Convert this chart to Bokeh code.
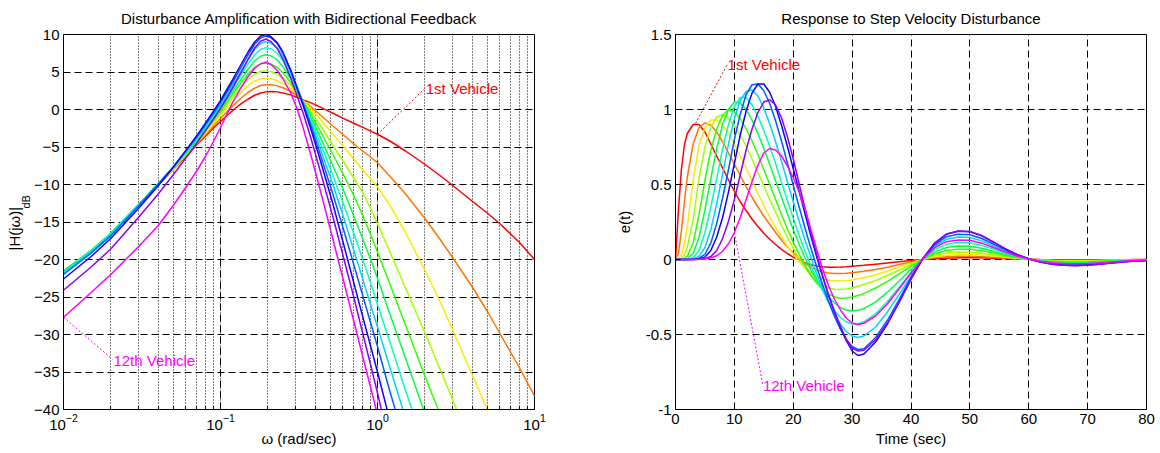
from bokeh.plotting import figure
from bokeh.models import FixedTicker, Label, Range1d, Title
from bokeh.layouts import row
from bokeh.embed import file_html
from bokeh.resources import INLINE

FONT = "Liberation Sans"

# ---------------- colours (vehicle 1 .. 12) ----------------
COLORS = ["#FF0000", "#FF7400", "#FFE800", "#A2FF00", "#2EFF00", "#00FF46",
          "#00FFB9", "#00D1FF", "#005DFF", "#1700FF", "#8B00FF", "#FF00FF"]

# ---------------- left: |H(jw)| in dB ----------------
freq = [0.01, 0.015, 0.02, 0.03, 0.04, 0.05, 0.06, 0.07, 0.08, 0.09, 0.1, 0.11,
        0.12, 0.135, 0.15, 0.165, 0.18, 0.195, 0.21, 0.23, 0.25, 0.28, 0.31, 0.34,
        0.38, 0.42, 0.47, 0.52, 0.6, 0.7, 0.8, 0.9, 1.0, 1.2, 1.5, 2.0, 2.5, 3.0,
        4.0, 5.0, 6.0, 8.0, 10.0]

mag_v1 = [-21.6, -18.9, -16.6, -12.8, -10.1, -8.0, -6.3, -4.8, -3.6, -2.5, -1.6, -0.8,
          -0.1, 0.75, 1.4, 1.9, 2.2, 2.35, 2.4, 2.35, 2.2, 1.95, 1.6, 1.25,
          0.85, 0.45, -0.05, -0.5, -1.15, -1.8, -2.35, -2.85, -3.3, -4.2, -5.5, -7.3, -8.8, -10.1,
          -12.2, -13.8, -15.2, -17.7, -20.0]
mag_v2 = [-21.6, -18.9, -16.6, -12.8, -10.1, -7.95, -6.2, -4.7, -3.4, -2.2, -1.2, -0.3,
          0.5, 1.5, 2.3, 2.85, 3.2, 3.3, 3.3, 3.15, 2.9, 2.4, 1.8, 1.1,
          0.3, -0.5, -1.4, -2.2, -3.3, -4.5, -5.5, -6.3, -7.1, -8.9, -11.2, -14.5, -17.3, -19.7,
          -23.6, -26.9, -29.8, -34.4, -38.2]
mag_v3 = [-21.6, -18.9, -16.6, -12.8, -10.05, -7.9, -6.1, -4.6, -3.2, -1.95, -0.8, 0.2,
          1.1, 2.3, 3.2, 3.8, 4.1, 4.15, 4.1, 3.85, 3.5, 2.8, 2.0, 1.1,
          0.0, -1.0, -2.2, -3.3, -4.8, -6.5, -8.0, -9.2, -10.3, -12.8, -16.3, -21.4, -25.6, -29.3,
          -35.3, -40.0, -44.5]
mag_v4 = [-21.5, -18.8, -16.5, -12.75, -10.0, -7.85, -6.0, -4.45, -3.0, -1.7, -0.5, 0.6,
          1.6, 2.9, 4.0, 4.7, 5.1, 5.15, 5.05, 4.7, 4.2, 3.2, 2.1, 1.0,
          -0.4, -1.7, -3.3, -4.8, -6.8, -9.0, -11.0, -13.1, -15.2, -19.0, -23.7, -29.7, -34.6, -38.6,
          -45.0]
mag_v5 = [-21.5, -18.8, -16.5, -12.7, -9.95, -7.8, -5.9, -4.3, -2.8, -1.45, -0.2, 1.0,
          2.1, 3.5, 4.75, 5.6, 6.05, 6.2, 6.05, 5.6, 4.9, 3.6, 2.2, 0.9,
          -0.8, -2.4, -4.3, -6.0, -8.5, -11.3, -14.0, -16.6, -19.0, -23.3, -28.6, -35.5, -40.6, -45.0]
mag_v6 = [-21.5, -18.8, -16.5, -12.7, -9.9, -7.75, -5.8, -4.15, -2.6, -1.2, 0.1, 1.35,
          2.5, 4.0, 5.4, 6.5, 7.1, 7.3, 7.15, 6.6, 5.7, 4.1, 2.4, 0.8,
          -1.2, -3.1, -5.4, -7.5, -10.5, -14.0, -17.1, -19.9, -22.5, -27.3, -33.0, -40.5, -46.5]
mag_v7 = [-21.6, -18.85, -16.55, -12.7, -9.9, -7.7, -5.7, -4.0, -2.4, -0.95, 0.4, 1.7,
          2.9, 4.6, 6.1, 7.3, 8.0, 8.25, 8.1, 7.5, 6.5, 4.6, 2.6, 0.7,
          -1.6, -3.8, -6.4, -8.8, -12.3, -16.3, -19.8, -23.0, -26.0, -31.0, -37.3, -45.0]
mag_v8 = [-21.8, -19.0, -16.7, -12.8, -9.95, -7.65, -5.6, -3.85, -2.2, -0.7, 0.7, 2.05,
          3.3, 5.1, 6.7, 8.0, 8.8, 9.05, 8.85, 8.2, 7.1, 5.0, 2.7, 0.6,
          -2.0, -4.5, -7.4, -10.0, -14.0, -18.5, -22.4, -25.9, -29.0, -34.4, -41.0]
mag_v9 = [-22.0, -19.15, -16.85, -12.9, -10.0, -7.65, -5.55, -3.75, -2.05, -0.5, 1.0, 2.4,
          3.7, 5.6, 7.3, 8.7, 9.55, 9.8, 9.55, 8.8, 7.6, 5.3, 2.8, 0.5,
          -2.4, -5.2, -8.4, -11.3, -15.6, -20.4, -24.6, -28.3, -31.6, -37.6, -44.5]
mag_v10 = [-22.6, -19.6, -17.2, -13.2, -10.2, -7.7, -5.5, -3.6, -1.85, -0.25, 1.2, 2.7,
           4.05, 6.0, 7.7, 9.0, 9.8, 10.0, 9.7, 8.9, 7.6, 5.2, 2.6, 0.2,
           -2.9, -5.9, -9.4, -12.6, -17.5, -22.8, -27.4, -31.4, -35.0, -41.5]
mag_v11 = [-24.1, -21.0, -18.6, -14.4, -11.3, -8.7, -6.5, -4.6, -2.85, -1.3, 0.15, 1.6,
           2.95, 4.9, 6.7, 8.2, 9.1, 9.4, 9.05, 8.1, 6.7, 4.2, 1.6, -0.8,
           -4.1, -7.3, -11.0, -14.3, -19.3, -24.7, -29.6, -33.9, -37.8, -45.0]
mag_v12 = [-27.7, -24.4, -22.0, -18.3, -15.5, -12.8, -10.4, -8.3, -6.3, -4.3, -2.4, -0.6,
           1.0, 2.9, 4.4, 5.5, 6.1, 6.3, 6.0, 5.2, 4.1, 2.2, -0.1, -2.8,
           -6.4, -9.8, -13.7, -17.3, -22.4, -27.9, -32.7, -36.9, -40.7]
mag_curves = [mag_v1, mag_v2, mag_v3, mag_v4, mag_v5, mag_v6,
              mag_v7, mag_v8, mag_v9, mag_v10, mag_v11, mag_v12]

mag_yticks = [-40, -35, -30, -25, -20, -15, -10, -5, 0, 5, 10]
mag_xticks = [0.01, 0.1, 1, 10]

# annotations (left)
ann_l_first_line = ([1.0, 2.0], [-3.3, 2.8])
ann_l_first_text = (2.03, 2.8)
ann_l_last_line = ([0.01, 0.0205], [-27.7, -33.3])
ann_l_last_text = (0.0208, -33.5)

# ---------------- right: e(t) ----------------
time = [0, 0.5, 1, 1.5, 2, 3, 4, 5, 6, 7, 8, 9, 10, 11, 12, 13, 14, 15, 16, 17, 18,
        19, 20, 21, 22, 23, 24, 25, 26, 27, 28, 29, 30, 31, 32, 34, 36, 38, 40, 42,
        44, 46, 48, 50, 52, 54, 56, 58, 60, 62, 64, 66, 68, 70, 72, 74, 76, 78, 80]

err_v1 = [0, 0.33, 0.6, 0.76, 0.84, 0.9, 0.9, 0.85, 0.77, 0.69, 0.61, 0.53, 0.455, 0.385,
          0.325, 0.27, 0.22, 0.175, 0.135, 0.1, 0.068, 0.04, 0.016, -0.005, -0.022, -0.035,
          -0.044, -0.049, -0.051, -0.051, -0.05, -0.048, -0.045, -0.042, -0.039,
          -0.031, -0.023, -0.015, -0.007, 0.0, 0.005, 0.009, 0.011, 0.012, 0.011, 0.009,
          0.006, 0.004, 0.002, 0.0, -0.001, -0.002, -0.002, -0.002, -0.002, -0.001, -0.001, 0.0, 0.0]
err_v2 = [0, 0.04, 0.19, 0.38, 0.55, 0.77, 0.88, 0.91, 0.895, 0.85, 0.785, 0.71, 0.635, 0.56,
          0.485, 0.415, 0.35, 0.29, 0.235, 0.18, 0.13, 0.085, 0.045, 0.01, -0.025, -0.05,
          -0.069, -0.082, -0.09, -0.094, -0.094, -0.092, -0.088, -0.084, -0.079,
          -0.066, -0.051, -0.034, -0.017, 0.0, 0.011, 0.018, 0.021, 0.022, 0.019, 0.015,
          0.01, 0.005, 0.001, -0.002, -0.004, -0.005, -0.005, -0.005, -0.004, -0.003, -0.002, -0.001, -0.001]
err_v3 = [0, 0.003, 0.03, 0.1, 0.22, 0.53, 0.76, 0.88, 0.93, 0.93, 0.895, 0.84, 0.77, 0.69,
          0.61, 0.525, 0.44, 0.36, 0.285, 0.215, 0.15, 0.09, 0.035, -0.015, -0.055, -0.088,
          -0.112, -0.128, -0.138, -0.143, -0.144, -0.141, -0.136, -0.129, -0.121,
          -0.102, -0.078, -0.05, -0.024, 0.002, 0.018, 0.029, 0.034, 0.034, 0.03, 0.023,
          0.015, 0.008, 0.002, -0.003, -0.006, -0.008, -0.009, -0.008, -0.007, -0.005, -0.004, -0.002, -0.001]
err_v4 = [0, 0.0, 0.006, 0.03, 0.08, 0.27, 0.54, 0.75, 0.88, 0.95, 0.965, 0.94, 0.89, 0.83,
          0.755, 0.67, 0.58, 0.49, 0.4, 0.315, 0.23, 0.15, 0.075, 0.005, -0.055, -0.105,
          -0.145, -0.172, -0.19, -0.199, -0.2, -0.196, -0.189, -0.179, -0.167,
          -0.14, -0.107, -0.07, -0.033, 0.002, 0.028, 0.043, 0.05, 0.049, 0.042, 0.031,
          0.019, 0.009, 0.002, -0.005, -0.009, -0.011, -0.012, -0.011, -0.009, -0.007, -0.005, -0.003, -0.002]
err_v5 = [0, 0, 0.001, 0.007, 0.022, 0.11, 0.3, 0.53, 0.73, 0.87, 0.96, 1.0, 0.985, 0.94,
          0.87, 0.79, 0.7, 0.6, 0.5, 0.4, 0.3, 0.205, 0.115, 0.035, -0.04, -0.105,
          -0.158, -0.2, -0.23, -0.25, -0.258, -0.257, -0.25, -0.24, -0.226,
          -0.19, -0.146, -0.096, -0.045, 0.002, 0.038, 0.06, 0.069, 0.068, 0.058, 0.043,
          0.027, 0.013, 0.003, -0.006, -0.012, -0.015, -0.016, -0.015, -0.012, -0.009, -0.006, -0.004, -0.002]
err_v6 = [0, 0, 0, 0.001, 0.005, 0.04, 0.15, 0.33, 0.54, 0.74, 0.9, 1.0, 1.05, 1.045,
          1.0, 0.93, 0.84, 0.74, 0.635, 0.525, 0.415, 0.305, 0.2, 0.1, 0.01, -0.07,
          -0.14, -0.2, -0.25, -0.29, -0.32, -0.337, -0.343, -0.339, -0.327,
          -0.283, -0.218, -0.143, -0.066, 0.003, 0.051, 0.08, 0.09, 0.088, 0.075, 0.055,
          0.034, 0.016, 0.003, -0.009, -0.017, -0.021, -0.022, -0.02, -0.016, -0.012, -0.008, -0.005, -0.003]
err_v7 = [0, 0, 0, 0, 0.001, 0.012, 0.06, 0.18, 0.35, 0.54, 0.74, 0.9, 1.02, 1.08,
          1.08, 1.03, 0.955, 0.86, 0.755, 0.64, 0.515, 0.395, 0.275, 0.16, 0.055, -0.04,
          -0.13, -0.21, -0.28, -0.34, -0.385, -0.415, -0.43, -0.428, -0.415,
          -0.36, -0.28, -0.185, -0.088, 0.004, 0.066, 0.101, 0.113, 0.111, 0.094, 0.07,
          0.043, 0.02, 0.003, -0.011, -0.021, -0.026, -0.027, -0.025, -0.02, -0.015, -0.01, -0.006, -0.004]
err_v8 = [0, 0, 0, 0, 0, 0.003, 0.02, 0.08, 0.2, 0.37, 0.57, 0.77, 0.94, 1.06,
          1.12, 1.13, 1.09, 1.01, 0.905, 0.785, 0.655, 0.52, 0.385, 0.255, 0.13, 0.015,
          -0.095, -0.195, -0.285, -0.365, -0.43, -0.48, -0.51, -0.52, -0.51,
          -0.45, -0.35, -0.232, -0.11, 0.004, 0.087, 0.135, 0.15, 0.147, 0.124, 0.091,
          0.056, 0.026, 0.004, -0.014, -0.025, -0.031, -0.032, -0.03, -0.025, -0.018, -0.012, -0.008, -0.005]
err_v9 = [0, 0, 0, 0, 0, 0.001, 0.007, 0.035, 0.11, 0.24, 0.41, 0.6, 0.8, 0.97,
          1.1, 1.165, 1.17, 1.125, 1.04, 0.925, 0.79, 0.645, 0.495, 0.35, 0.21, 0.075,
          -0.05, -0.17, -0.28, -0.38, -0.465, -0.535, -0.58, -0.6, -0.595,
          -0.52, -0.405, -0.265, -0.12, 0.005, 0.097, 0.152, 0.168, 0.165, 0.14, 0.103,
          0.064, 0.029, 0.004, -0.016, -0.029, -0.035, -0.036, -0.034, -0.028, -0.021, -0.014, -0.009, -0.006]
err_v10 = [0, 0, 0, 0, 0, 0.0, 0.003, 0.016, 0.06, 0.15, 0.28, 0.45, 0.64, 0.83,
           0.99, 1.11, 1.17, 1.17, 1.115, 1.02, 0.895, 0.755, 0.605, 0.455, 0.305, 0.155,
           0.015, -0.115, -0.24, -0.35, -0.45, -0.54, -0.61, -0.64, -0.63,
           -0.55, -0.43, -0.285, -0.13, 0.006, 0.108, 0.168, 0.188, 0.185, 0.158, 0.116,
           0.071, 0.033, 0.005, -0.017, -0.031, -0.038, -0.04, -0.037, -0.031, -0.023, -0.016, -0.01, -0.006]
err_v11 = [0, 0, 0, 0, 0, 0, 0.001, 0.005, 0.02, 0.06, 0.14, 0.255, 0.4, 0.565,
           0.73, 0.87, 0.98, 1.05, 1.065, 1.03, 0.945, 0.82, 0.67, 0.505, 0.34, 0.18,
           0.03, -0.11, -0.235, -0.345, -0.445, -0.53, -0.59, -0.61, -0.605,
           -0.535, -0.425, -0.283, -0.132, 0.005, 0.109, 0.17, 0.19, 0.187, 0.16, 0.118,
           0.073, 0.034, 0.005, -0.017, -0.032, -0.039, -0.041, -0.038, -0.032, -0.024, -0.016, -0.01, -0.006]
err_v12 = [0, 0, 0, 0, 0, 0, 0.001, 0.003, 0.01, 0.025, 0.055, 0.105, 0.18, 0.28,
           0.4, 0.52, 0.63, 0.71, 0.74, 0.73, 0.69, 0.625, 0.545, 0.45, 0.335, 0.2,
           0.065, -0.065, -0.175, -0.265, -0.335, -0.39, -0.423, -0.433, -0.425,
           -0.375, -0.295, -0.195, -0.09, 0.004, 0.077, 0.119, 0.13, 0.128, 0.109, 0.08,
           0.05, 0.023, 0.004, -0.012, -0.022, -0.027, -0.028, -0.026, -0.022, -0.016, -0.011, -0.007, -0.004]
err_curves = [err_v1, err_v2, err_v3, err_v4, err_v5, err_v6,
              err_v7, err_v8, err_v9, err_v10, err_v11, err_v12]

err_xticks = [0, 10, 20, 30, 40, 50, 60, 70, 80]
err_yticks = [-1, -0.5, 0, 0.5, 1, 1.5]
err_ylabels = {-1: "-1", -0.5: "-0.5", 0: "0", 0.5: "0.5", 1: "1", 1.5: "1.5"}

# annotations (right)
ann_r_first_line = ([3.4, 8.8], [0.907, 1.3])
ann_r_first_text = (8.85, 1.3)
ann_r_last_line = ([10.0, 14.8], [0.18, -0.83])
ann_r_last_text = (14.85, -0.84)


def style(p):
    p.outline_line_color = "black"
    p.outline_line_alpha = 1.0
    p.outline_line_width = 1
    p.background_fill_color = "white"
    p.border_fill_color = "white"
    p.title.text_font = FONT
    p.title.text_font_size = "15px"
    p.title.text_font_style = "normal"
    p.title.text_color = "black"
    p.title.align = "center"
    p.title.vertical_align = "middle"
    p.title.standoff = 14
    for ax in p.axis:
        ax.axis_line_color = "black"
        ax.major_tick_line_color = "black"
        ax.minor_tick_line_color = "black"
        ax.major_tick_in = 5
        ax.major_tick_out = 0
        ax.minor_tick_in = 3
        ax.minor_tick_out = 0
        ax.major_label_text_font = FONT
        ax.major_label_text_font_size = "15px"
        ax.major_label_text_color = "black"
        ax.axis_label_text_font = FONT
        ax.axis_label_text_font_size = "15px"
        ax.axis_label_text_font_style = "normal"
        ax.axis_label_text_color = "black"
        ax.major_label_standoff = 4
        ax.axis_label_standoff = 3
    for g in p.grid:
        g.grid_line_color = "black"
        g.grid_line_dash = "7 4"
        g.grid_line_alpha = 1.0
        g.grid_line_width = 1


# ---------------- left figure ----------------
p1 = figure(width=608, height=452, x_axis_type="log",
            x_range=Range1d(0.01, 10), y_range=Range1d(-40, 10),
            output_backend="svg", toolbar_location=None,
            min_border_left=63, min_border_right=74, min_border_top=34, min_border_bottom=43,
            title="Disturbance Amplification with Bidirectional Feedback")
minor = []
for dec in [0.01, 0.1, 1.0]:
    for k in range(1, 10):
        minor.append(k * dec)
minor.append(10.0)
p1.xaxis.ticker = FixedTicker(ticks=mag_xticks, minor_ticks=minor)
p1.yaxis.ticker = FixedTicker(ticks=mag_yticks)
p1.xaxis.axis_label = "\u03c9 (rad/sec)"
style(p1)
p1.yaxis.minor_tick_line_color = None
p1.xaxis.axis_label_standoff = -3
p1.xgrid.minor_grid_line_color = "black"
p1.xgrid.minor_grid_line_dash = "1 2"
p1.xgrid.minor_grid_line_alpha = 1.0

# y label |H(jw)| with subscript dB, as two side titles
p1.add_layout(Title(text="dB", align="left", offset=201, standoff=0,
                    text_font=FONT, text_font_size="11px", text_font_style="normal",
                    text_color="black"), "left")
p1.add_layout(Title(text="|H(j\u03c9)|", align="left", offset=159, standoff=-10,
                    text_font=FONT, text_font_size="15px", text_font_style="normal",
                    text_color="black"), "left")

for vals, col in zip(mag_curves, COLORS):
    p1.line(freq[:len(vals)], vals, line_color=col, line_width=1.5)

p1.line(ann_l_first_line[0], ann_l_first_line[1], line_color=COLORS[0], line_dash="2 2", line_width=1)
p1.line(ann_l_last_line[0], ann_l_last_line[1], line_color=COLORS[11], line_dash="2 2", line_width=1)
p1.add_layout(Label(x=ann_l_first_text[0], y=ann_l_first_text[1], text="1st Vehicle",
                    text_color=COLORS[0], text_font=FONT, text_font_size="15px",
                    text_align="left", text_baseline="middle"))
p1.add_layout(Label(x=ann_l_last_text[0], y=ann_l_last_text[1], text="12th Vehicle",
                    text_color=COLORS[11], text_font=FONT, text_font_size="15px",
                    text_align="left", text_baseline="middle"))

# ---------------- right figure ----------------
p2 = figure(width=552, height=452,
            x_range=Range1d(0, 80), y_range=Range1d(-1, 1.5),
            output_backend="svg", toolbar_location=None,
            min_border_left=67, min_border_right=14, min_border_top=34, min_border_bottom=43,
            title="Response to Step Velocity Disturbance")
p2.xaxis.ticker = FixedTicker(ticks=err_xticks)
p2.yaxis.ticker = FixedTicker(ticks=err_yticks)
p2.yaxis.major_label_overrides = err_ylabels
p2.xaxis.axis_label = "Time (sec)"
p2.yaxis.axis_label = "e(t)"
style(p2)
p2.axis.minor_tick_line_color = None
p2.yaxis.axis_label_standoff = 10

for vals, col in zip(err_curves, COLORS):
    p2.line(time[:len(vals)], vals, line_color=col, line_width=1.5)

p2.line(ann_r_first_line[0], ann_r_first_line[1], line_color=COLORS[0], line_dash="2 2", line_width=1)
p2.line(ann_r_last_line[0], ann_r_last_line[1], line_color=COLORS[11], line_dash="2 2", line_width=1)
p2.add_layout(Label(x=ann_r_first_text[0], y=ann_r_first_text[1], text="1st Vehicle",
                    text_color=COLORS[0], text_font=FONT, text_font_size="15px",
                    text_align="left", text_baseline="middle"))
p2.add_layout(Label(x=ann_r_last_text[0], y=ann_r_last_text[1], text="12th Vehicle",
                    text_color=COLORS[11], text_font=FONT, text_font_size="15px",
                    text_align="left", text_baseline="middle"))

layout = row(p1, p2)
open("out.html", "w").write(file_html(layout, INLINE))
